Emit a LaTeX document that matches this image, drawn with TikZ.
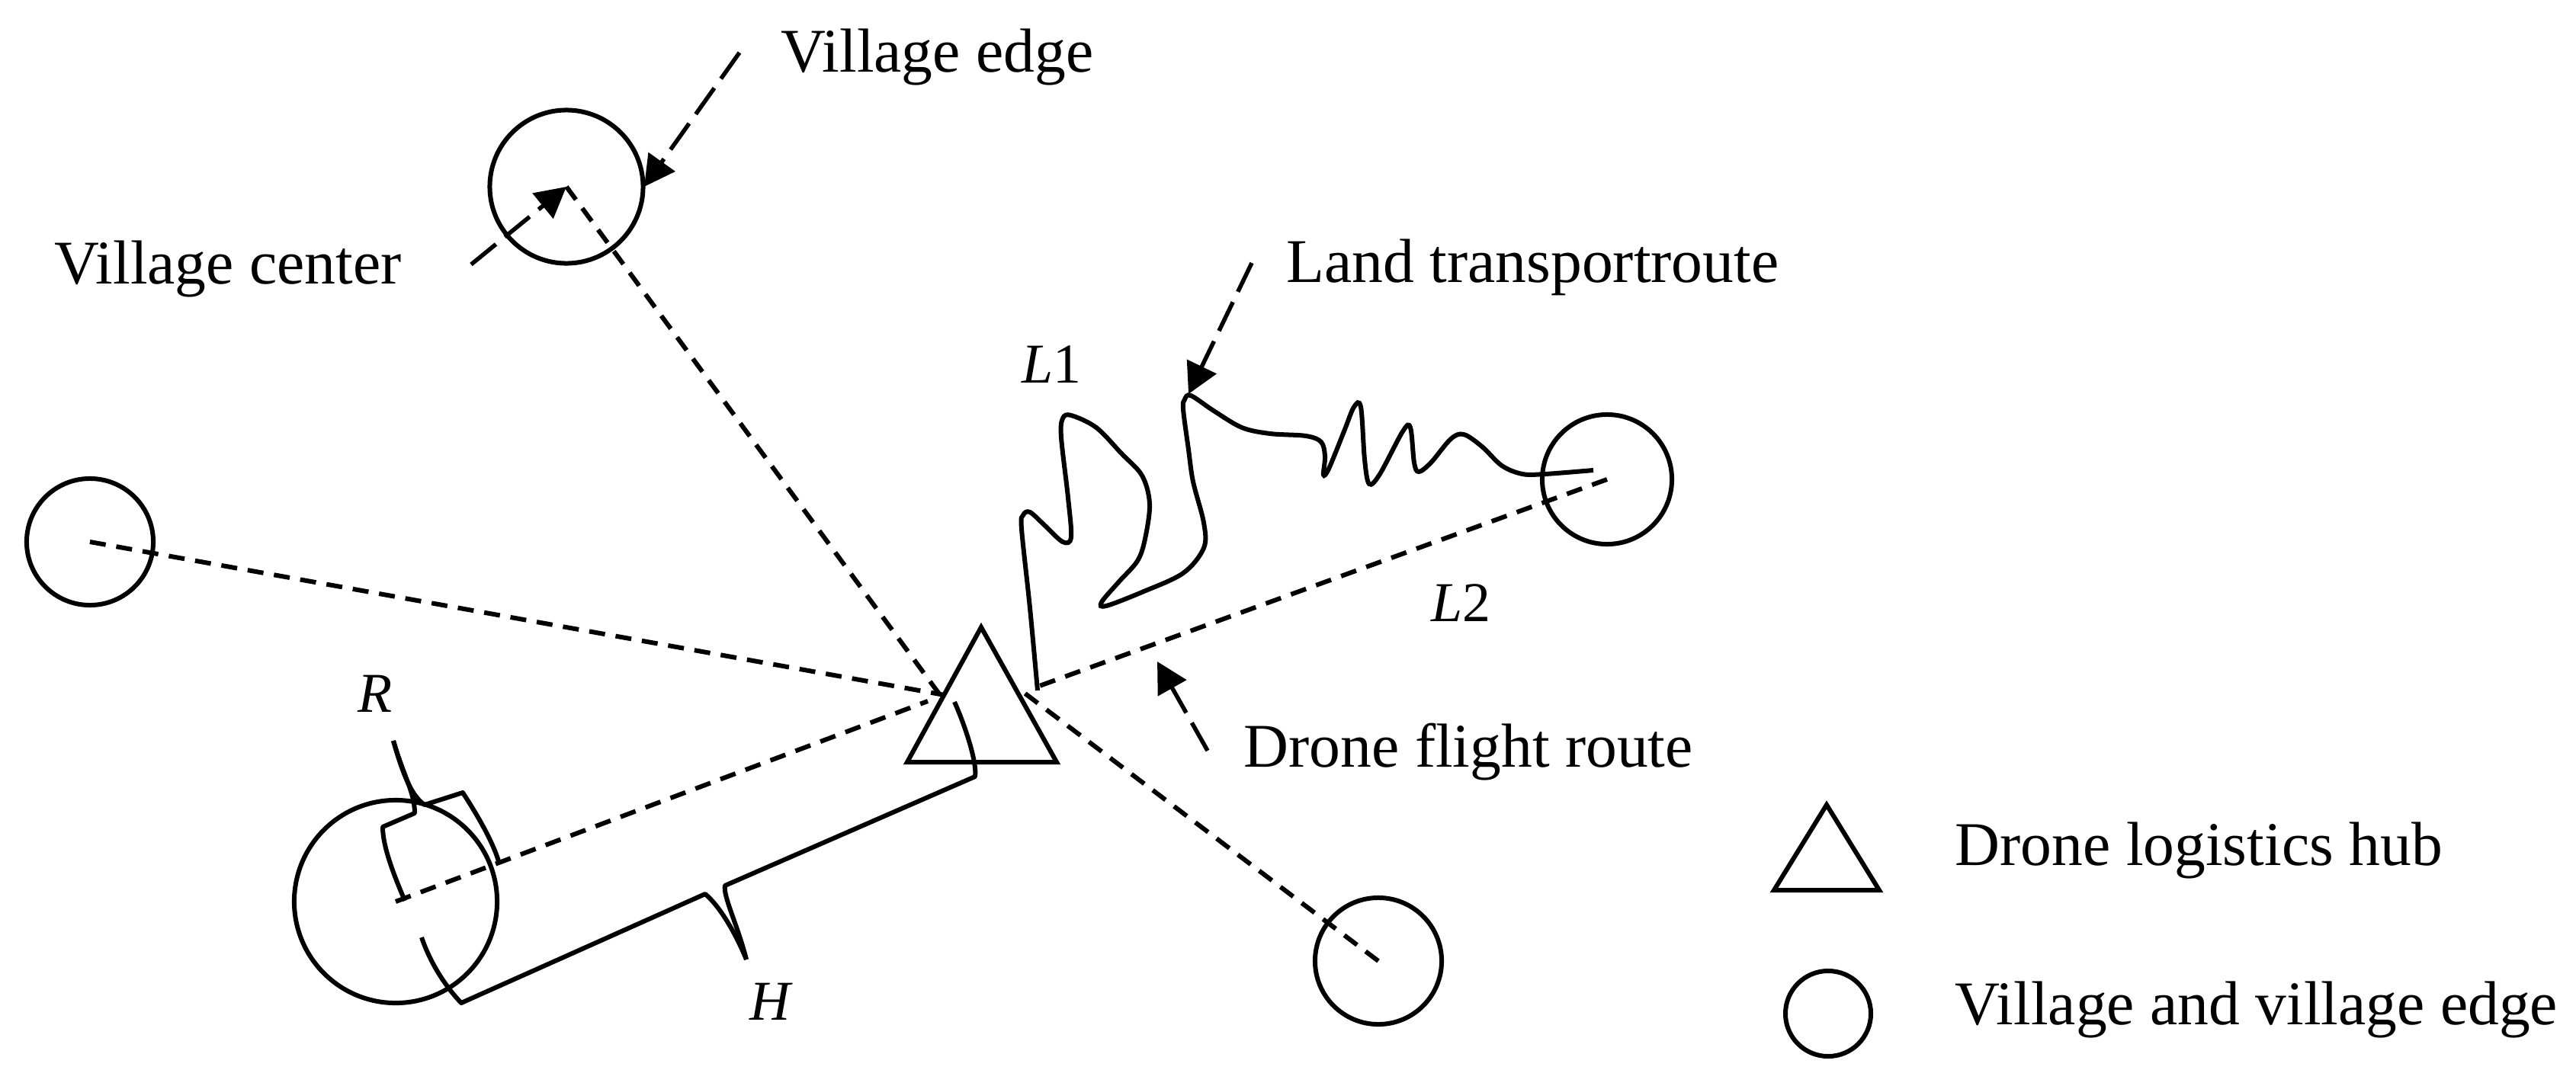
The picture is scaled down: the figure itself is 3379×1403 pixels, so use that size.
\documentclass[tikz,border=0pt]{standalone}
\usepackage{fontspec}
\setmainfont{Liberation Serif}
\usepackage{tikz}
\usetikzlibrary{arrows.meta}

\tikzset{
    village/.style={draw, circle, line width=.06cm, inner sep=0pt},
    flight/.style={line width=.06cm, dash pattern=on .21cm off .14cm},
    leader/.style={line width=.055cm, dash pattern=on .42cm off .15cm, -{Triangle[length=.4cm, width=.42cm]}},
    brace/.style={line width=.06cm, line join=round},
    caption/.style={anchor=west, inner sep=0pt, font=\fontsize{23.2}{26}\selectfont},
    symbol/.style={inner sep=0pt, font=\fontsize{21}{24}\selectfont\itshape}
}

\begin{document}
\begin{tikzpicture}[x=.01cm, y=-.01cm]
        \useasboundingbox (0,0) rectangle (3379,1403);

        % villages
        \node [village, minimum size=2.01cm] (vtop) at (743,245) {};
        \node [village, minimum size=1.66cm] (vleft) at (118,711) {};
        \node [village, minimum size=1.70cm] (vright) at (2108,629) {};
        \node [village, minimum size=1.66cm] (vlow) at (1808,1261) {};
        \node [village, minimum size=2.66cm] (vbig) at (519,1183) {};

        % hub
        \coordinate (apex) at (1287,823);
        \coordinate (baseL) at (1190,1000);
        \coordinate (baseR) at (1386,1000);
        \draw [line width=.06cm, line join=miter] (apex) -- (baseL) -- (baseR) -- cycle;

        % flight routes
        \coordinate (endtop) at (1236,916);
        \coordinate (endleft) at (1239,912);
        \coordinate (endbig) at (1217,920);
        \coordinate (endright) at (1358,902);
        \coordinate (endlow) at (1342,908);
        \foreach \v/\e in {vtop/endtop, vleft/endleft, vbig/endbig, vright/endright, vlow/endlow} {
            \draw [flight] (\v.center) -- (\e);
        }

        % land route
        \draw [line width=.06cm] plot [smooth, tension=.55] coordinates {
            (1361,906) (1351,798) (1340,694) (1342,676) (1351,672) (1371,690) (1394,711) (1405,705)
            (1401,653) (1392,574) (1394,549) (1405,545) (1438,561) (1471,595) (1498,624) (1508,661)
            (1502,707) (1492,736) (1468,763) (1445,790) (1451,795) (1498,777) (1552,752) (1579,719)
            (1579,686) (1565,632) (1559,590) (1552,537) (1554,524) (1562,519) (1592,539) (1629,561)
            (1666,569) (1713,572) (1733,580) (1738,599) (1736,623) (1743,615) (1763,566) (1776,534)
            (1785,534) (1790,603) (1796,635) (1810,622) (1840,566) (1850,561) (1855,607) (1861,619)
            (1877,607) (1903,576) (1920,570) (1944,586) (1970,611) (1997,622) (2027,622) (2090,617)};

        % radius mark
        \coordinate (Rtip) at (516,972);
        \draw [brace] (Rtip) .. controls (530,1020) and (544,1040) .. (544,1067) -- (502,1085) .. controls (502,1115) and (522,1160) .. (531,1182);
        \draw [brace] (Rtip) .. controls (528,1015) and (540,1045) .. (557,1056) -- (607,1040) .. controls (620,1060) and (645,1100) .. (654,1130);
        \node [symbol] (Rlabel) at (492,910) {R};

        % distance mark
        \coordinate (Htip) at (979,1259);
        \draw [brace] (553,1230) .. controls (565,1265) and (585,1295) .. (605,1316) -- (925,1173) .. controls (945,1190) and (965,1225) .. (Htip);
        \draw [brace] (Htip) .. controls (968,1215) and (948,1175) .. (951,1162) -- (1279,1019) .. controls (1282,1000) and (1265,950) .. (1252,921);
        \node [symbol] (Hlabel) at (1010,1314) {H};

        \node [symbol] (Lone) at (1379,478) {L\upshape 1};
        \node [symbol] (Ltwo) at (1916,791) {L\upshape 2};

        % captions
        \node [caption] (edgetext) at (1024,75) {Village edge};
        \node [caption] (centertext) at (71,353) {Village center};
        \node [caption] (landtext) at (1687,351) {Land transportroute};
        \node [caption] (flighttext) at (1631,987) {Drone flight route};

        % leaders
        \coordinate (edgefrom) at (970,69);
        \coordinate (edgeto) at (845,245);
        \coordinate (centerfrom) at (618,347);
        \coordinate (landfrom) at (1642,345);
        \coordinate (landto) at (1559,517);
        \coordinate (flightfrom) at (1584,985);
        \coordinate (flightto) at (1518,868);
        \draw [leader] (edgefrom) -- (edgeto);
        \draw [leader] (centerfrom) -- (vtop.center);
        \draw [leader] (landfrom) -- (landto);
        \draw [leader] (flightfrom) -- (flightto);

        % legend
        \draw [line width=.06cm] (2396,1056) -- (2327,1168) -- (2465,1168) -- cycle;
        \node [village, minimum size=1.12cm] (keyvillage) at (2398,1330) {};
        \node [caption] (keyhub) at (2564,1116) {Drone logistics hub};
        \node [caption] (keytext) at (2564,1325) {Village and village edge};
\end{tikzpicture}
\end{document}
